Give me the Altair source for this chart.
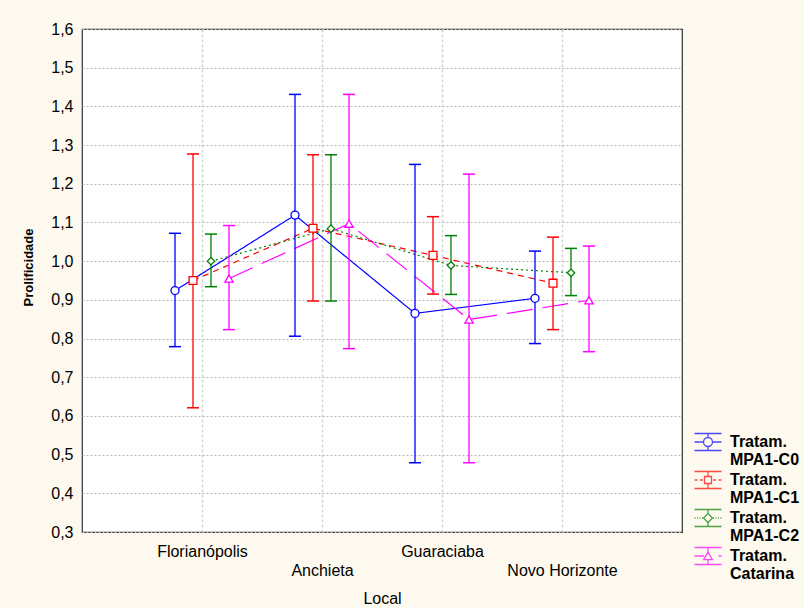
import altair as alt
import pandas as pd

# Locais (eixo x) e tratamentos (séries)
locais = ["Florianópolis", "Anchieta", "Guaraciaba", "Novo Horizonte"]
series = ["Tratam. MPA1-C0", "Tratam. MPA1-C1", "Tratam. MPA1-C2", "Tratam. Catarina"]

# Médias de prolificidade por local
media_c0 = [0.924, 1.119, 0.865, 0.904]
media_c1 = [0.950, 1.085, 1.015, 0.943]
media_c2 = [1.000, 1.084, 0.989, 0.970]
media_cat = [0.955, 1.097, 0.849, 0.899]

# Limites inferiores dos intervalos
inf_c0 = [0.779, 0.806, 0.479, 0.787]
inf_c1 = [0.621, 0.897, 0.915, 0.823]
inf_c2 = [0.934, 0.897, 0.914, 0.911]
inf_cat = [0.823, 0.774, 0.479, 0.766]

# Limites superiores dos intervalos
sup_c0 = [1.072, 1.431, 1.250, 1.026]
sup_c1 = [1.277, 1.275, 1.115, 1.062]
sup_c2 = [1.070, 1.275, 1.066, 1.033]
sup_cat = [1.092, 1.431, 1.225, 1.039]

medias = [media_c0, media_c1, media_c2, media_cat]
inferiores = [inf_c0, inf_c1, inf_c2, inf_cat]
superiores = [sup_c0, sup_c1, sup_c2, sup_cat]

# Estilo de cada série
cores = ["#0000FF", "#FF0000", "#008000", "#FF00FF"]
tracos = [[1, 0], [6, 5], [2, 3], [26, 10]]
formas = ["circle", "square", "diamond", "triangle-up"]
tamanhos = [64, 62, 55, 70]
deslocamento = [-0.225, -0.075, 0.075, 0.225]

# Glifos da legenda (em pixels, com símbolo de tamanho 4): barra de erro,
# linha da série interrompida e marcador vazado
moldura = "M-13.5,-8.5H13.5M-13.5,8.5H13.5"
glifos = [
    moldura + "M0,-8.5V-4.5M0,4.5V8.5M-13.5,0H-4.5M4.5,0H13.5"
    "M4.5,0A4.5,4.5 0 1,1 -4.5,0A4.5,4.5 0 1,1 4.5,0Z",
    moldura + "M0,-8.5V-3.5M0,3.5V8.5M-13.5,0H-10.5M-8,0H-5M5,0H8M10.5,0H13.5"
    "M-3.5,-3.5H3.5V3.5H-3.5Z",
    moldura + "M0,-8.5V-4.5M0,4.5V8.5"
    "M-13.5,0H-12.5M-11,0H-10M-8.5,0H-7.5M-6,0H-5M5,0H6M7.5,0H8.5M10,0H11M12.5,0H13.5"
    "M0,-4.5L4.5,0L0,4.5L-4.5,0Z",
    moldura + "M0,-8.5V-4M0,3.7V8.5M-13.5,0H-3.8M10.5,0H13.5"
    "M0,-4L4.3,3.7H-4.3Z",
]

linhas_df = []
for s, nome in enumerate(series):
    for i, local in enumerate(locais):
        linhas_df.append({
            "serie": nome,
            "local": local,
            "pos": i + 1 + deslocamento[s],
            "media": medias[s][i],
            "inf": inferiores[s][i],
            "sup": superiores[s][i],
        })
df = pd.DataFrame(linhas_df)

nomes_js = "[" + ",".join("'" + n + "'" for n in locais) + "]"
eixo_x = alt.Axis(
    values=[1, 2, 3, 4],
    labelExpr=f"datum.value % 2 == 0 ? ['', {nomes_js}[datum.value - 1]] : {nomes_js}[datum.value - 1]",
    labelLineHeight=19,
    labelPadding=11,
    labelBaseline="top",
    labelOverlap=False,
    ticks=False,
    domain=False,
    grid=True,
    gridColor="#d4d4d4",
    gridWidth=1.5,
    gridDash=[3, 2],
    title="Local",
    titleFontWeight="normal",
    titleFontSize=16,
    titleY=58,
    titleBaseline="top",
)
eixo_y = alt.Axis(
    values=[round(0.3 + 0.1 * k, 1) for k in range(14)],
    tickCount=20,
    labelExpr="replace(format(datum.value, '.1f'), '.', ',')",
    labelPadding=9,
    labelOverlap=False,
    ticks=False,
    domain=False,
    grid=True,
    gridColor="#b8b8b8",
    gridWidth=1,
    gridDash=[2, 2],
    title="Prolificidade",
    titleFontWeight="bold",
    titleFontSize=13,
    titleY=238,
    titleX=-47,
)

x = alt.X("pos:Q", scale=alt.Scale(domain=[0, 5], nice=False, zero=False), axis=eixo_x)
y = alt.Y("media:Q", scale=alt.Scale(domain=[0.3, 1.6], nice=False, zero=False), axis=eixo_y)

base = alt.Chart(df)

camadas = []
for s, nome in enumerate(series):
    dados = base.transform_filter(alt.datum.serie == nome)
    cor = alt.value(cores[s])
    camadas.append(
        dados.mark_line(strokeWidth=1.2, strokeDash=tracos[s]).encode(
            x=x, y=y, color=cor, order="pos:Q"
        )
    )
for s, nome in enumerate(series):
    dados = base.transform_filter(alt.datum.serie == nome)
    cor = alt.value(cores[s])
    camadas.append(
        dados.mark_rule(strokeWidth=1.3).encode(x="pos:Q", y="inf:Q", y2="sup:Q", color=cor)
    )
    camadas.append(
        dados.mark_rule(strokeWidth=1.5, xOffset=-6, x2Offset=6).encode(
            x="pos:Q", x2="pos:Q", y="sup:Q", color=cor
        )
    )
    camadas.append(
        dados.mark_rule(strokeWidth=1.5, xOffset=-6, x2Offset=6).encode(
            x="pos:Q", x2="pos:Q", y="inf:Q", color=cor
        )
    )
for s, nome in enumerate(series):
    dados = base.transform_filter(alt.datum.serie == nome)
    camadas.append(
        dados.mark_point(shape=formas[s], filled=True, size=tamanhos[s], strokeWidth=1.3, opacity=1).encode(
            x="pos:Q",
            y="media:Q",
            fill=alt.value("white"),
            stroke=alt.value(cores[s]),
        )
    )

legenda_cfg = dict(
    title=None,
    orient="none",
    legendX=618,
    legendY=405,
    labelExpr="split(datum.label, ' ')",
    labelFont="Liberation Sans",
    labelFontSize=16,
    labelFontWeight="bold",
    labelColor="black",
    labelOffset=14,
    labelLimit=200,
    labelBaseline="middle",
    symbolSize=4,
    symbolStrokeWidth=1.3,
    rowPadding=0,
    padding=0,
)

# Camada sem marcas visíveis que só define a legenda (domínio explícito)
legenda = base.transform_filter("false").mark_point(filled=False, size=4, strokeWidth=1.3).encode(
    x="pos:Q",
    y="media:Q",
    color=alt.Color("serie:N", scale=alt.Scale(domain=series, range=cores), legend=alt.Legend(**legenda_cfg)),
    shape=alt.Shape("serie:N", scale=alt.Scale(domain=series, range=glifos), legend=alt.Legend(**legenda_cfg)),
)
camadas.append(legenda)

chart = (
    alt.layer(*camadas)
    .properties(
        width=600,
        height=503,
        background="#fef9ee",
        autosize=alt.AutoSizeParams(type="none"),
        padding={"left": 82, "top": 29, "right": 122, "bottom": 76},
    )
    .configure_view(stroke="#303030", strokeWidth=1.2, fill="white")
    .configure_axis(
        labelFont="Liberation Sans",
        labelFontSize=16,
        labelColor="black",
        titleFont="Liberation Sans",
        titleColor="black",
    )
)

chart.save("out.html", embed_options={"renderer": "svg", "actions": False})
